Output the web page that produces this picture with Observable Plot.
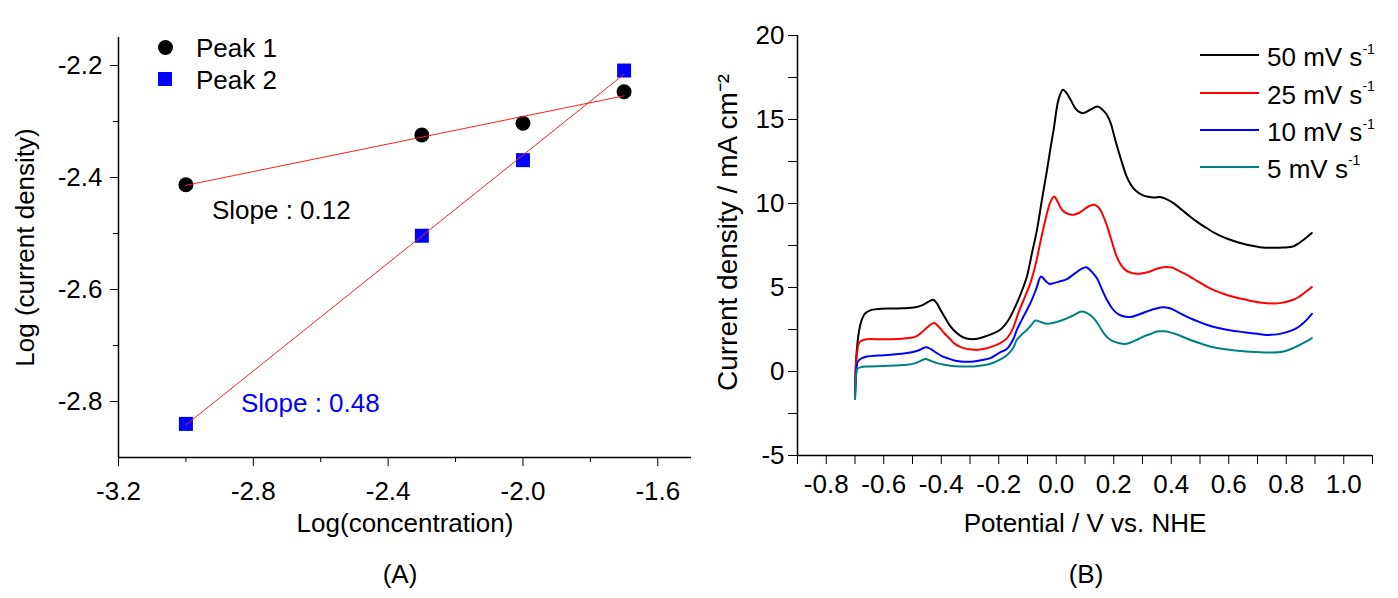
<!DOCTYPE html>
<html><head><meta charset="utf-8">
<script src="https://cdn.jsdelivr.net/npm/d3@7"></script>
<script src="https://cdn.jsdelivr.net/npm/@observablehq/plot@0.6"></script>
<style>
body{margin:0;background:#fff;}
#wrap{position:relative;width:1398px;height:598px;background:#fff;font-family:"Liberation Sans",Arial,sans-serif;color:#000;overflow:hidden}
.panel{position:absolute;top:0}
.cap{position:absolute;font-size:26px;line-height:30px;transform:translateX(-50%);white-space:nowrap}
.leg{position:absolute;font-size:26px;line-height:30px;white-space:nowrap}
.leg sup{font-size:14px;line-height:0;position:relative;top:-3px}
.sw{position:absolute}
</style></head><body><div id="wrap"></div>
<script>
// ---------- Panel A data ----------
const logConc = [-3.0, -2.3, -2.0, -1.7];
const peak1 = [-2.413, -2.324, -2.303, -2.247];
const peak2 = [-2.840, -2.504, -2.369, -2.209];
const peakNames = ["Peak 1", "Peak 2"];
const slopes = ["0.12", "0.48"];
const xTicksA = [-3.2, -2.8, -2.4, -2.0, -1.6];
const xMinorA = [-3.0, -2.6, -2.2, -1.8];
const yTicksA = [-2.2, -2.4, -2.6, -2.8];
const yMinorA = [-2.3, -2.5, -2.7];

// ---------- Panel B data ----------
const rates = ["50 mV s", "25 mV s", "10 mV s", "5 mV s"];
const pot50 = [-0.700,-0.697,-0.692,-0.686,-0.678,-0.665,-0.645,-0.620,-0.580,-0.530,-0.490,-0.465,-0.445,-0.428,-0.415,-0.403,-0.385,-0.368,-0.350,-0.333,-0.315,-0.299,-0.275,-0.253,-0.225,-0.194,-0.165,-0.137,-0.115,-0.102,-0.085,-0.067,-0.050,-0.032,-0.020,-0.009,0.008,0.023,0.035,0.049,0.065,0.077,0.095,0.118,0.143,0.160,0.176,0.190,0.199,0.210,0.222,0.245,0.262,0.280,0.300,0.315,0.340,0.361,0.385,0.408,0.435,0.465,0.495,0.523,0.550,0.581,0.615,0.650,0.708,0.750,0.790,0.824,0.845,0.865,0.889];
const cur50 = [-1.6,0.4,1.6,2.4,3.0,3.45,3.65,3.72,3.75,3.76,3.82,3.95,4.15,4.27,4.05,3.67,3.15,2.68,2.35,2.12,1.98,1.93,1.95,2.05,2.22,2.50,3.10,4.07,5.0,5.65,7.0,8.43,10.2,12.0,13.3,14.4,16.2,16.77,16.6,16.2,15.7,15.48,15.38,15.58,15.77,15.6,15.28,14.75,14.19,13.5,12.8,11.6,11.05,10.71,10.5,10.42,10.35,10.38,10.25,10.02,9.65,9.23,8.85,8.54,8.25,8.0,7.78,7.6,7.40,7.36,7.38,7.44,7.65,7.9,8.24];
const pot25 = [-0.700,-0.697,-0.692,-0.686,-0.675,-0.660,-0.600,-0.540,-0.500,-0.484,-0.460,-0.440,-0.424,-0.408,-0.390,-0.370,-0.356,-0.338,-0.321,-0.300,-0.275,-0.250,-0.229,-0.200,-0.171,-0.150,-0.132,-0.110,-0.090,-0.070,-0.056,-0.032,-0.020,-0.007,0.005,0.020,0.040,0.060,0.080,0.095,0.115,0.132,0.148,0.159,0.175,0.188,0.210,0.225,0.240,0.260,0.280,0.300,0.326,0.350,0.373,0.395,0.408,0.435,0.465,0.495,0.523,0.550,0.581,0.615,0.650,0.708,0.778,0.824,0.845,0.859,0.889];
const cur25 = [-1.6,0.3,1.2,1.69,1.85,1.92,1.92,1.95,2.02,2.12,2.45,2.75,2.88,2.65,2.29,1.95,1.69,1.50,1.39,1.32,1.29,1.35,1.45,1.65,1.99,2.6,3.48,4.4,5.26,6.5,7.64,9.43,10.1,10.42,10.1,9.63,9.38,9.33,9.45,9.63,9.85,9.92,9.75,9.43,8.75,8.04,6.85,6.35,6.05,5.88,5.82,5.85,5.95,6.12,6.21,6.2,6.15,5.92,5.65,5.33,5.06,4.83,4.63,4.45,4.31,4.11,4.07,4.27,4.45,4.63,5.02];
const pot10 = [-0.700,-0.697,-0.694,-0.690,-0.680,-0.658,-0.620,-0.576,-0.540,-0.507,-0.480,-0.462,-0.451,-0.435,-0.415,-0.398,-0.380,-0.355,-0.333,-0.310,-0.287,-0.260,-0.229,-0.194,-0.171,-0.150,-0.137,-0.125,-0.110,-0.090,-0.070,-0.053,-0.040,-0.025,-0.009,0.010,0.037,0.060,0.085,0.104,0.120,0.141,0.160,0.176,0.195,0.210,0.230,0.257,0.285,0.315,0.345,0.373,0.395,0.408,0.435,0.465,0.495,0.523,0.560,0.593,0.630,0.660,0.700,0.731,0.778,0.824,0.845,0.859,0.875,0.889];
const cur10 = [-1.6,-0.4,0.3,0.60,0.76,0.89,0.95,0.99,1.05,1.13,1.25,1.40,1.45,1.32,1.09,0.92,0.80,0.66,0.60,0.58,0.60,0.68,0.80,1.15,1.35,1.9,2.48,2.9,3.4,4.07,4.9,5.65,5.45,5.22,5.26,5.35,5.50,5.78,6.08,6.21,6.0,5.56,4.85,4.27,3.75,3.48,3.30,3.24,3.38,3.57,3.74,3.83,3.76,3.67,3.43,3.18,2.97,2.78,2.60,2.48,2.39,2.32,2.24,2.18,2.24,2.48,2.68,2.88,3.15,3.43];
const pot5 = [-0.700,-0.698,-0.695,-0.692,-0.680,-0.658,-0.600,-0.519,-0.490,-0.470,-0.455,-0.435,-0.415,-0.390,-0.368,-0.330,-0.287,-0.255,-0.229,-0.194,-0.171,-0.150,-0.137,-0.120,-0.102,-0.085,-0.073,-0.055,-0.032,-0.005,0.025,0.060,0.089,0.110,0.130,0.148,0.165,0.180,0.199,0.220,0.245,0.275,0.303,0.330,0.349,0.375,0.396,0.420,0.465,0.500,0.535,0.570,0.604,0.640,0.674,0.743,0.790,0.836,0.870,0.889];
const cur5 = [-1.6,-0.6,-0.1,0.15,0.25,0.30,0.33,0.40,0.50,0.65,0.74,0.62,0.50,0.40,0.34,0.30,0.30,0.37,0.46,0.72,0.98,1.4,1.89,2.2,2.48,2.8,3.04,2.95,2.84,2.92,3.08,3.35,3.57,3.45,3.18,2.75,2.29,2.0,1.79,1.68,1.65,1.85,2.08,2.25,2.38,2.39,2.33,2.2,1.89,1.68,1.49,1.37,1.29,1.22,1.17,1.13,1.19,1.49,1.79,1.99];
const colorsB = ["#000000", "#ff0000", "#0000ff", "#008080"];
const xTicksB = [-0.8, -0.6, -0.4, -0.2, 0.0, 0.2, 0.4, 0.6, 0.8, 1.0];
const xMinorB = [-0.9, -0.7, -0.5, -0.3, -0.1, 0.1, 0.3, 0.5, 0.7, 0.9, 1.1];
const yTicksB = [-5, 0, 5, 10, 15, 20];
const yMinorB = [-2.5, 2.5, 7.5, 12.5, 17.5];
const yLabelB = "Current density / mA cm⁻²";

// ---------- build ----------
const wrap = document.getElementById("wrap");
const font = "'Liberation Sans', Arial, sans-serif";
const fmt1 = d => d.toFixed(1);
const fmt0 = d => d.toFixed(0);
const blank = () => "";

const rowsA = logConc.flatMap((x, i) => [
  {x, y: peak1[i], s: peakNames[0]},
  {x, y: peak2[i], s: peakNames[1]}
]);
const notes = [
  {x: logConc[0], y: peak1[0], t: `Slope : ${slopes[0]}`},
  {x: logConc[0], y: peak2[0], t: `Slope : ${slopes[1]}`}
];

const plotA = Plot.plot({
  width: 700, height: 545,
  marginLeft: 118, marginRight: 9, marginTop: 37, marginBottom: 88,
  x: {domain: [-3.2, -1.5]},
  y: {domain: [-2.9, -2.15]},
  style: {fontFamily: font, fontSize: "26px", background: "white", color: "black", overflow: "visible"},
  marks: [
    Plot.axisX(xTicksA, {tickSize: 9, tickPadding: 15, tickFormat: fmt1, label: "Log(concentration)", labelAnchor: "center", labelArrow: "none", labelOffset: 74}),
    Plot.axisX(xMinorA, {tickSize: 5, tickFormat: blank, label: null}),
    Plot.axisY(yTicksA, {tickSize: 8, tickPadding: 8, tickFormat: fmt1, label: "Log (current density)", labelAnchor: "center", labelArrow: "none", labelOffset: 103}),
    Plot.axisY(yMinorA, {tickSize: 5, tickFormat: blank, label: null}),
    Plot.ruleX([-3.2], {strokeWidth: 1.5}),
    Plot.ruleY([-2.9], {strokeWidth: 1.5}),
    Plot.dot(rowsA.filter(d => d.s === peakNames[0]), {x: "x", y: "y", r: 7.5, fill: "black", symbol: "circle"}),
    Plot.dot(rowsA.filter(d => d.s === peakNames[1]), {x: "x", y: "y", r: 7.9, fill: "#0000ff", symbol: "square"}),
    Plot.linearRegressionY(rowsA, {x: "x", y: "y", z: "s", stroke: "#ff2020", strokeWidth: 1, ci: 0}),
    Plot.text([notes[0]], {x: "x", y: "y", text: "t", textAnchor: "start", dx: 26, dy: 26, fill: "black"}),
    Plot.text([notes[1]], {x: "x", y: "y", text: "t", textAnchor: "start", dx: 55, dy: -20, fill: "#0000ff"})
  ]
});
plotA.classList.add("panel");
plotA.style.left = "0px";
wrap.appendChild(plotA);

const potB = [pot50, pot25, pot10, pot5];
const curB = [cur50, cur25, cur10, cur5];
const rowsB = rates.flatMap((r, i) => potB[i].map((p, j) => ({rate: r, x: p, y: curB[i][j]})));

const plotB = Plot.plot({
  width: 698, height: 545,
  marginLeft: 97, marginRight: 26, marginTop: 35, marginBottom: 90,
  x: {domain: [-0.9, 1.1]},
  y: {domain: [-5, 20]},
  color: {domain: rates, range: colorsB},
  style: {fontFamily: font, fontSize: "26px", background: "white", color: "black", overflow: "visible"},
  marks: [
    Plot.axisX(xTicksB, {tickSize: 9, tickPadding: 10, tickFormat: fmt1, label: "Potential / V vs. NHE", labelAnchor: "center", labelArrow: "none", labelOffset: 76}),
    Plot.axisX(xMinorB, {tickSize: 9, tickFormat: blank, label: null}),
    Plot.axisY(yTicksB, {tickSize: 9, tickPadding: 4, tickFormat: fmt0, label: null}),
    Plot.axisY(yMinorB, {tickSize: 9, tickFormat: blank, label: null}),
    Plot.text([yLabelB], {frameAnchor: "left", textAnchor: "middle", rotate: -90, lineAnchor: "top", dx: -80, dy: -13, fontSize: 28, fill: "black"}),
    Plot.ruleX([-0.9], {strokeWidth: 1.5}),
    Plot.ruleY([-5], {strokeWidth: 1.5}),
    Plot.line(rowsB, {x: "x", y: "y", z: "rate", stroke: "rate", strokeWidth: 2, curve: "catmull-rom"})
  ]
});
plotB.classList.add("panel");
plotB.style.left = "700px";
wrap.appendChild(plotB);

// ---------- legends & captions (HTML overlay) ----------
function el(tag, cls, css, html) {
  const e = document.createElement(tag);
  if (cls) e.className = cls;
  Object.assign(e.style, css);
  if (html != null) e.innerHTML = html;
  wrap.appendChild(e);
  return e;
}
// Panel A legend
el("div", "sw", {left: "157.5px", top: "40px", width: "15px", height: "15px", borderRadius: "50%", background: "#000"});
el("div", "leg", {left: "196px", top: "33px"}, peakNames[0]);
el("div", "sw", {left: "158px", top: "72px", width: "14px", height: "14px", background: "#0000ff"});
el("div", "leg", {left: "196px", top: "65px"}, peakNames[1]);
// Panel B legend
const legY = [55, 92.7, 130, 166.7];
rates.forEach((r, i) => {
  el("div", "sw", {left: "1200px", top: (legY[i] - 1) + "px", width: "59px", height: "2px", background: colorsB[i]});
  el("div", "leg", {left: "1267px", top: (legY[i] + 2 - 14.7) + "px"}, r + "<sup>-1</sup>");
});
// captions
el("div", "cap", {left: "400px", top: "559px"}, "(A)");
el("div", "cap", {left: "1086px", top: "559px"}, "(B)");
</script>
</body></html>
